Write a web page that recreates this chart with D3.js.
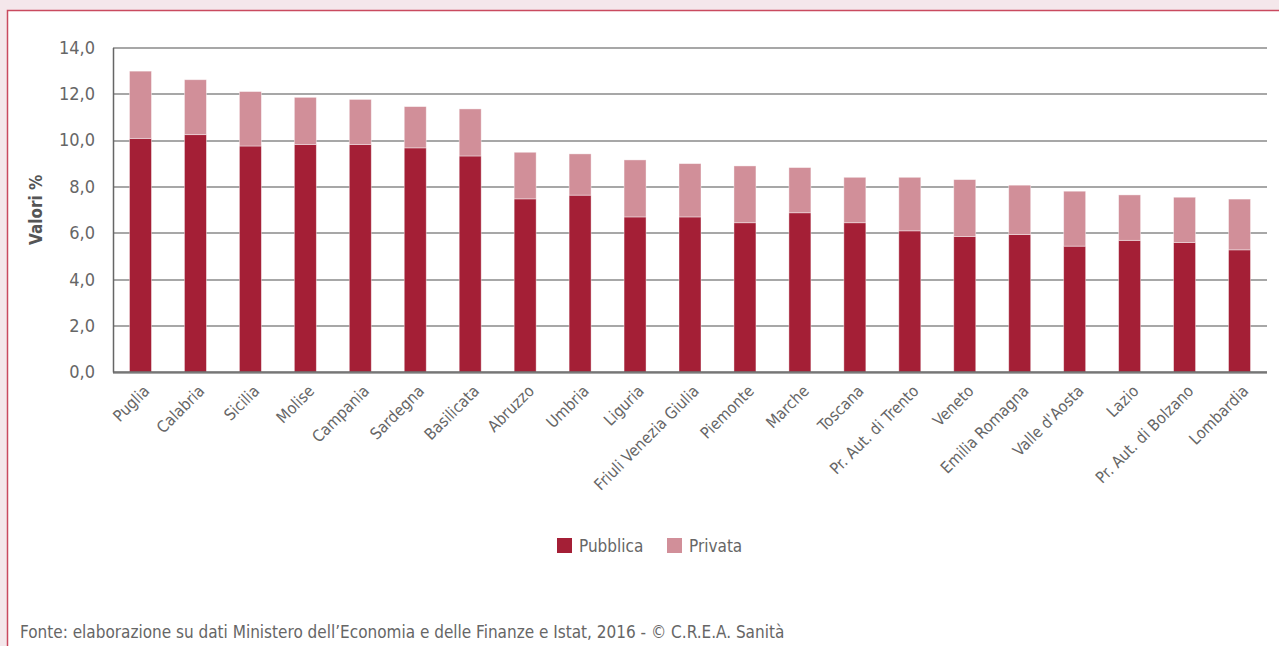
<!DOCTYPE html>
<html>
<head>
<meta charset="utf-8">
<script src="https://cdn.jsdelivr.net/npm/d3@7"></script>
<style>
  body { margin: 0; background: #f4e7eb; }
  svg { display: block; }
  text { font-family: "Liberation Sans Narrow", "Arial Narrow", "DejaVu Sans Condensed", sans-serif; }
</style>
</head>
<body>
<div class="chart"></div>
<script>
// Regioni e valori (% spesa)
var regioni = ["Puglia", "Calabria", "Sicilia", "Molise", "Campania", "Sardegna", "Basilicata",
  "Abruzzo", "Umbria", "Liguria", "Friuli Venezia Giulia", "Piemonte", "Marche", "Toscana",
  "Pr. Aut. di Trento", "Veneto", "Emilia Romagna", "Valle d'Aosta", "Lazio",
  "Pr. Aut. di Bolzano", "Lombardia"];
var pubblica = [10.08, 10.24, 9.75, 9.82, 9.82, 9.67, 9.32, 7.47, 7.63, 6.69, 6.69, 6.44, 6.87,
  6.44, 6.09, 5.85, 5.93, 5.43, 5.68, 5.59, 5.27];
var privata = [2.90, 2.37, 2.35, 2.03, 1.94, 1.78, 2.03, 2.01, 1.78, 2.46, 2.30, 2.45, 1.95,
  1.96, 2.31, 2.45, 2.13, 2.37, 1.96, 1.95, 2.19];
var yTicks = [0, 2, 4, 6, 8, 10, 12, 14];
var serie = ["Pubblica", "Privata"];
var colori = ["#a41f36", "#d18f99"];

var svgWidth = 1279;
var svgHeight = 646;
var margin = { top: 47.5, right: 12, bottom: 274, left: 113 };
var chartWidth = svgWidth - margin.left - margin.right;
var chartHeight = svgHeight - margin.top - margin.bottom;

var svg = d3.select(".chart").append("svg")
  .attr("width", svgWidth)
  .attr("height", svgHeight);

// cornice bianca con bordo
svg.append("rect")
  .attr("x", 7.5).attr("y", 10.5)
  .attr("width", svgWidth).attr("height", svgHeight)
  .attr("fill", "#fff")
  .attr("stroke", "#c94a5f")
  .attr("stroke-width", 1.5);

var g = svg.append("g")
  .attr("transform", `translate(${margin.left}, ${margin.top})`);

// tabella per lo stack
var table = regioni.map(function(r, i) {
  return { regione: r, Pubblica: pubblica[i], Privata: privata[i] };
});
var stacked = d3.stack().keys(serie)(table);

var x = d3.scaleBand()
  .domain(regioni)
  .range([0, chartWidth])
  .paddingInner(0.6)
  .paddingOuter(0.3);

var y = d3.scaleLinear()
  .domain([0, 14])
  .range([chartHeight, 0]);

// griglia
g.append("g")
  .selectAll("line")
  .data(yTicks)
  .enter()
  .append("line")
  .attr("x1", 0)
  .attr("x2", chartWidth)
  .attr("y1", d => Math.round(y(d)) + 0.5)
  .attr("y2", d => Math.round(y(d)) + 0.5)
  .attr("stroke", "#8a8a8a")
  .attr("stroke-width", 1.5);

// barre
g.selectAll(".serie")
  .data(stacked)
  .enter()
  .append("g")
  .attr("class", "serie")
  .attr("fill", (d, i) => colori[i])
  .selectAll("rect")
  .data(d => d)
  .enter()
  .append("rect")
  .attr("x", d => x(d.data.regione))
  .attr("y", d => y(d[1]))
  .attr("width", x.bandwidth())
  .attr("height", d => y(d[0]) - y(d[1]))
  .attr("stroke", "rgba(255,255,255,0.5)")
  .attr("stroke-width", 0.8);

// asse y
var leftAxis = d3.axisLeft(y)
  .tickValues(yTicks)
  .tickSize(0)
  .tickPadding(18)
  .tickFormat(d => d3.format(".1f")(d).replace(".", ","));

var yAxis = g.append("g").call(leftAxis);
yAxis.select(".domain").attr("stroke", "#666").attr("stroke-width", 1.5);
yAxis.selectAll("text")
  .attr("fill", "#666")
  .style("font-size", "18px");

// linea asse x
g.append("line")
  .attr("x1", 0).attr("x2", chartWidth)
  .attr("y1", chartHeight).attr("y2", chartHeight)
  .attr("stroke", "#666")
  .attr("stroke-width", 1.5);

// etichette x
var bottomAxis = d3.axisBottom(x).tickSize(0).tickPadding(0);
var xAxis = g.append("g")
  .attr("transform", `translate(0, ${chartHeight})`)
  .call(bottomAxis);
xAxis.select(".domain").remove();
xAxis.selectAll("text")
  .attr("fill", "#666")
  .style("font-size", "16px")
  .attr("text-anchor", "end")
  .attr("dy", "0")
  .attr("transform", "translate(10, 20) rotate(-45)");

// titolo asse y
svg.append("text")
  .attr("transform", `translate(42, ${margin.top + y(7)}) rotate(-90)`)
  .attr("text-anchor", "middle")
  .attr("fill", "#555")
  .style("font-size", "17px")
  .style("font-weight", "bold")
  .text("Valori %");

// legenda
var legend = svg.append("g")
  .selectAll("g")
  .data(serie)
  .enter()
  .append("g")
  .attr("transform", (d, i) => `translate(${557 + i * 110}, 538)`);

legend.append("rect")
  .attr("width", 15)
  .attr("height", 15)
  .attr("fill", (d, i) => colori[i]);

legend.append("text")
  .attr("x", 22)
  .attr("y", 14)
  .attr("fill", "#666")
  .style("font-size", "17px")
  .text(d => d);

// fonte
svg.append("text")
  .attr("x", 20)
  .attr("y", 638)
  .attr("fill", "#666")
  .style("font-size", "17px")
  .text("Fonte: elaborazione su dati Ministero dell\u2019Economia e delle Finanze e Istat, 2016  - \u00a9 C.R.E.A. Sanit\u00e0");
</script>
</body>
</html>
